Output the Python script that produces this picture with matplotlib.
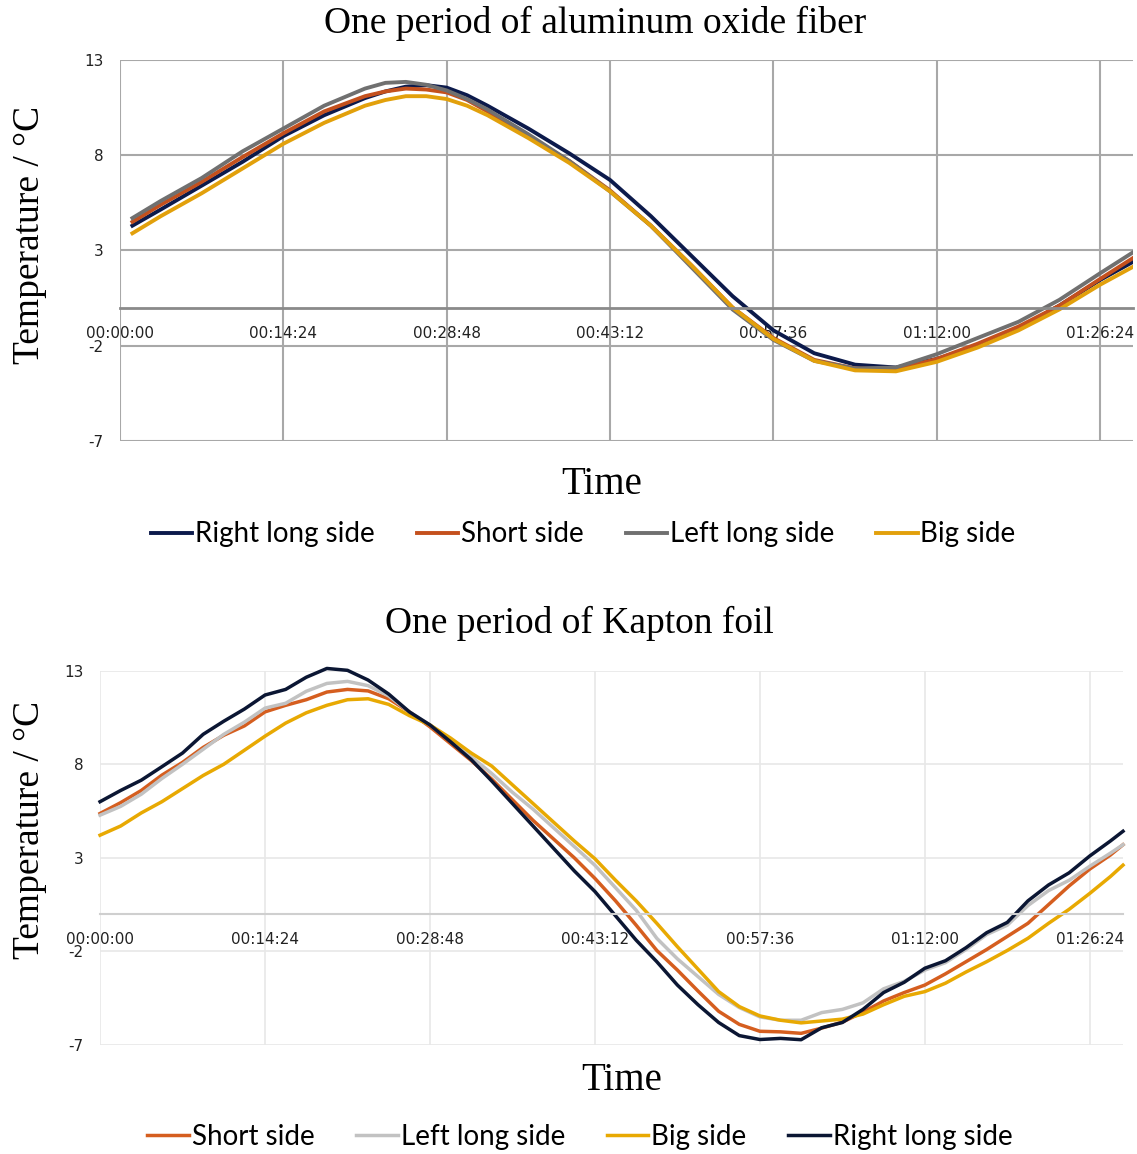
import matplotlib
matplotlib.use('Agg')
import matplotlib.pyplot as plt

plt.rcParams['axes.unicode_minus'] = False

# time axis in minutes
tick_minutes = [0, 14.4, 28.8, 43.2, 57.6, 72.0, 86.4]
tick_labels = ['00:00:00', '00:14:24', '00:28:48', '00:43:12', '00:57:36', '01:12:00', '01:26:24']
y_ticks = [13, 8, 3, -2, -7]

# aluminum oxide fiber
t_fiber = [1.1, 3.6, 7.2, 10.8, 14.4, 18.0, 21.6, 23.4, 25.2, 27.0, 28.8, 30.6, 32.4, 36.0, 39.6, 43.2,
           46.8, 50.4, 54.0, 57.6, 61.2, 64.8, 68.4, 72.0, 75.6, 79.2, 82.8, 86.4, 89.3]
fiber_right = [4.3, 5.15, 6.4, 7.65, 9.0, 10.1, 11.0, 11.35, 11.6, 11.68, 11.55, 11.15, 10.6, 9.4, 8.1, 6.7,
               4.8, 2.7, 0.6, -1.2, -2.4, -3.0, -3.15, -2.7, -2.0, -1.1, 0.1, 1.45, 2.4]
fiber_short = [4.5, 5.4, 6.6, 7.9, 9.15, 10.3, 11.1, 11.35, 11.5, 11.45, 11.3, 10.9, 10.3, 9.0, 7.7, 6.15,
               4.3, 2.2, 0.0, -1.6, -2.75, -3.2, -3.25, -2.7, -1.9, -1.0, 0.1, 1.5, 2.6]
fiber_left = [4.7, 5.6, 6.8, 8.2, 9.4, 10.6, 11.5, 11.8, 11.85, 11.7, 11.4, 10.95, 10.4, 9.1, 7.7, 6.1,
              4.3, 2.1, -0.1, -1.7, -2.8, -3.2, -3.15, -2.45, -1.6, -0.75, 0.4, 1.8, 2.9]
fiber_big = [3.9, 4.8, 6.0, 7.3, 8.6, 9.7, 10.6, 10.9, 11.1, 11.1, 10.95, 10.6, 10.1, 8.9, 7.6, 6.1,
             4.3, 2.2, 0.0, -1.65, -2.8, -3.3, -3.35, -2.85, -2.1, -1.2, -0.1, 1.2, 2.14]

# kapton foil
t_kapton = [0, 1.8, 3.6, 5.4, 7.2, 9.0, 10.8, 12.6, 14.4, 16.2, 18.0, 19.8, 21.6, 23.4,
            25.2, 27.0, 28.8, 30.6, 32.4, 34.2, 36.0, 37.8, 39.6, 41.4, 43.2, 45.0, 46.8,
            48.6, 50.4, 52.2, 54.0, 55.8, 57.6, 59.4, 61.2, 63.0, 64.8, 66.6, 68.4, 70.2,
            72.0, 73.8, 75.6, 77.4, 79.2, 81.0, 82.8, 84.6, 86.4, 88.2, 89.3]
kapton_short = [5.37, 5.95, 6.6, 7.42, 8.1, 8.9, 9.55, 10.05, 10.8, 11.15, 11.45, 11.86, 12.0, 11.92,
                11.5, 10.8, 10.0, 9.1, 8.2, 7.2, 6.1, 5.0, 4.0, 3.0, 1.9, 0.7, -0.6,
                -1.95, -3.0, -4.12, -5.2, -5.9, -6.27, -6.3, -6.38, -6.1, -5.78, -5.25, -4.65, -4.2,
                -3.8, -3.2, -2.55, -1.9, -1.2, -0.5, 0.5, 1.5, 2.4, 3.15, 3.7]
kapton_left = [5.28, 5.75, 6.4, 7.24, 8.0, 8.8, 9.6, 10.25, 11.0, 11.26, 11.9, 12.32, 12.43, 12.2,
               11.65, 10.8, 10.1, 9.25, 8.4, 7.5, 6.5, 5.6, 4.6, 3.6, 2.6, 1.4, 0.2,
               -1.3, -2.4, -3.35, -4.3, -5.0, -5.5, -5.68, -5.68, -5.27, -5.1, -4.75, -4.0, -3.6,
               -3.0, -2.6, -1.9, -1.1, -0.6, 0.45, 1.25, 1.8, 2.55, 3.25, 3.7]
kapton_big = [4.21, 4.7, 5.4, 6.0, 6.7, 7.4, 8.0, 8.75, 9.5, 10.2, 10.75, 11.15, 11.45, 11.5,
              11.2, 10.6, 10.1, 9.4, 8.6, 7.9, 6.9, 5.9, 4.9, 3.9, 2.95, 1.8, 0.7,
              -0.5, -1.75, -2.95, -4.15, -4.95, -5.45, -5.68, -5.82, -5.72, -5.62, -5.35, -4.85, -4.4,
              -4.15, -3.7, -3.1, -2.55, -1.95, -1.3, -0.5, 0.25, 1.1, 2.0, 2.61]
kapton_right = [6.0, 6.6, 7.15, 7.87, 8.6, 9.6, 10.3, 10.95, 11.7, 12.0, 12.65, 13.12, 13.02, 12.5,
                11.75, 10.8, 10.1, 9.2, 8.25, 7.1, 5.9, 4.7, 3.5, 2.3, 1.2, -0.1, -1.4,
                -2.55, -3.8, -4.85, -5.8, -6.5, -6.71, -6.65, -6.72, -6.08, -5.8, -5.1, -4.2, -3.65,
                -2.9, -2.5, -1.8, -1.0, -0.45, 0.7, 1.55, 2.2, 3.1, 3.9, 4.42]

serif = 'Liberation Serif'
sans = 'Lato'

fig = plt.figure(figsize=(11.37, 11.54), dpi=100)
ax1 = fig.add_axes([0.1055, 0.618, 0.891, 0.330])
ax2 = fig.add_axes([0.088, 0.0945, 0.8997, 0.3243])


def style_axes(ax, grid_color, zero_color, grid_lw, zero_lw):
    ax.set_xlim(0, 89.3)
    ax.set_ylim(-7, 13)
    ax.set_xticks(tick_minutes)
    ax.set_xticklabels(tick_labels)
    ax.set_yticks(y_ticks)
    ax.grid(True, color=grid_color, linewidth=grid_lw, zorder=0)
    ax.set_axisbelow(True)
    for side in ['left', 'right', 'top']:
        ax.spines[side].set_visible(False)
    ax.spines['bottom'].set_position(('data', 0))
    ax.spines['bottom'].set_color(zero_color)
    ax.spines['bottom'].set_linewidth(zero_lw)
    ax.tick_params(axis='both', length=0, labelsize=11, colors='#222222')
    ax.tick_params(axis='x', pad=13)
    ax.tick_params(axis='y', pad=12)


# top panel
ax1.plot(t_fiber, fiber_right, color='#0c1a4b', lw=2.8, label='Right long side')
ax1.plot(t_fiber, fiber_short, color='#c4501d', lw=2.8, label='Short side')
ax1.plot(t_fiber, fiber_left, color='#707070', lw=2.8, label='Left long side')
ax1.plot(t_fiber, fiber_big, color='#e2a00b', lw=2.8, label='Big side')
style_axes(ax1, '#a8a8a8', '#8a8a8a', 1.5, 2.0)

fig.text(0.523, 0.980, 'One period of aluminum oxide fiber', ha='center', va='center',
         family=serif, fontsize=27)
fig.text(0.026, 0.796, 'Temperature / °C', ha='center', va='center', rotation=90,
         family=serif, fontsize=27)
fig.text(0.529, 0.580, 'Time', ha='center', va='center', family=serif, fontsize=28)
fig.legend(*ax1.get_legend_handles_labels(), loc='center', bbox_to_anchor=(0.513, 0.537),
           ncol=4, frameon=False, prop={'family': sans, 'size': 20},
           handlelength=1.5, handletextpad=0.1, columnspacing=1.5)

# bottom panel
for vals, col, name in [(kapton_short, '#d55e1f', 'Short side'),
                        (kapton_left, '#c2c2c2', 'Left long side'),
                        (kapton_big, '#e8a902', 'Big side'),
                        (kapton_right, '#0b1633', 'Right long side')]:
    ax2.plot(t_kapton, vals, color=col, lw=2.5, label=name, clip_on=False)
style_axes(ax2, '#e8e8e8', '#cfcfcf', 1.2, 1.5)

fig.text(0.51, 0.460, 'One period of Kapton foil', ha='center', va='center',
         family=serif, fontsize=27)
fig.text(0.026, 0.281, 'Temperature / °C', ha='center', va='center', rotation=90,
         family=serif, fontsize=27)
fig.text(0.547, 0.064, 'Time', ha='center', va='center', family=serif, fontsize=28)
fig.legend(*ax2.get_legend_handles_labels(), loc='center', bbox_to_anchor=(0.51, 0.0147),
           ncol=4, frameon=False, prop={'family': sans, 'size': 20},
           handlelength=1.5, handletextpad=0.1, columnspacing=1.5)

fig.savefig('out.png', dpi=100)
